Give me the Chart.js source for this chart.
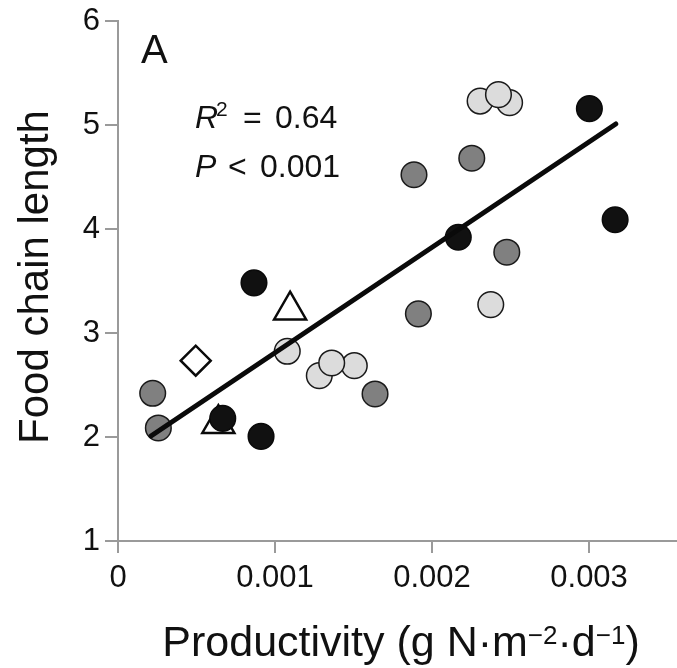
<!DOCTYPE html>
<html><head><meta charset="utf-8">
<script src="https://cdn.jsdelivr.net/npm/chart.js@4.4.0/dist/chart.umd.min.js"></script>
<style>html,body{margin:0;padding:0;background:#fff;overflow:hidden}#wrap{width:677px;height:668px;position:relative}</style>
</head><body><div id="wrap"><canvas id="c"></canvas></div>
<script>
// ---- data ----
const xTicks = [0, 0.001, 0.002, 0.003];
const yTicks = [1, 2, 3, 4, 5, 6];
const blackX = [0.003002, 0.003166, 0.002167, 0.000866, 0.000911, 0.000667];
const blackY = [5.157, 4.089, 3.921, 3.482, 2.006, 2.179];
const grayX = [0.000221, 0.000257, 0.001637, 0.001913, 0.001885, 0.002253, 0.002476];
const grayY = [2.420, 2.087, 2.414, 3.184, 4.522, 4.681, 3.777];
const lightX = [0.001078, 0.001282, 0.001505, 0.001361, 0.002374, 0.002306, 0.002494, 0.002423];
const lightY = [2.824, 2.590, 2.686, 2.712, 3.273, 5.230, 5.215, 5.292];
const triX = [0.001096, 0.000639];
const triY = [3.219, 2.128];
const diamondX = [0.000495];
const diamondY = [2.734];
const fitX = [0.00021, 0.00317];
const fitY = [2.01, 5.01];
const panelLabel = 'A';
const r2Value = '0.64';
const pValue = '0.001';
const yTitle = 'Food chain length';

const FONT = '"Liberation Sans", Arial, Helvetica, sans-serif';
const pts = (xs, ys) => xs.map((x, i) => ({x: x, y: ys[i]}));

const textPlugin = {
  id: 'texts',
  afterDraw(chart) {
    const ctx = chart.ctx;
    ctx.save();
    ctx.fillStyle = '#111';
    ctx.textBaseline = 'alphabetic';
    ctx.textAlign = 'left';
    // panel label
    ctx.font = '40px ' + FONT;
    ctx.fillText(panelLabel, 141, 63);
    // R^2 line
    ctx.font = 'italic 32px ' + FONT;
    ctx.fillText('R', 195, 128);
    ctx.font = '21px ' + FONT;
    ctx.fillText('2', 216, 116);
    ctx.font = '32px ' + FONT;
    ctx.fillText('=', 243, 128);
    ctx.fillText(r2Value, 275, 128);
    // P line
    ctx.font = 'italic 32px ' + FONT;
    ctx.fillText('P', 195, 177);
    ctx.font = '32px ' + FONT;
    ctx.fillText('<', 228, 177);
    ctx.fillText(pValue, 260, 177);
    // x title with superscripts
    const big = '43px ' + FONT, sup = '26px ' + FONT;
    const parts = [
      ['Productivity (g N\u00B7m', big, 0],
      ['\u22122', sup, -12],
      ['\u00B7d', big, 0],
      ['\u22121', sup, -12],
      [')', big, 0]
    ];
    let total = 0;
    parts.forEach(p => { ctx.font = p[1]; total += ctx.measureText(p[0]).width; });
    let x = 401 - total / 2;
    parts.forEach(p => {
      ctx.font = p[1];
      ctx.fillText(p[0], x, 656 + p[2]);
      x += ctx.measureText(p[0]).width;
    });
    // y title
    ctx.translate(48, 277);
    ctx.rotate(-Math.PI / 2);
    ctx.textAlign = 'center';
    ctx.font = '42px ' + FONT;
    ctx.fillText(yTitle, 0, 0);
    ctx.restore();
  }
};

const axisGray = '#9a9a9a';

new Chart(document.getElementById('c'), {
  type: 'scatter',
  data: {
    datasets: [
      {label: 'fit', data: pts(fitX, fitY), showLine: true, borderColor: '#0a0a0a', borderWidth: 5,
       pointRadius: 0, fill: false, order: 0, borderCapStyle: 'round'},
      {label: 'black', data: pts(blackX, blackY), pointStyle: 'circle', pointRadius: 12.8,
       backgroundColor: '#111111', borderColor: '#0a0a0a', borderWidth: 1.5, order: 1},
      {label: 'triangles', data: pts(triX, triY), pointStyle: 'triangle', pointRadius: 18.5,
       backgroundColor: '#ffffff', borderColor: '#0a0a0a', borderWidth: 2.5, order: 2},
      {label: 'diamond', data: pts(diamondX, diamondY), pointStyle: 'rectRot', pointRadius: 15,
       backgroundColor: '#ffffff', borderColor: '#0a0a0a', borderWidth: 2.5, order: 3},
      {label: 'gray', data: pts(grayX, grayY), pointStyle: 'circle', pointRadius: 12.8,
       backgroundColor: '#808080', borderColor: '#1a1a1a', borderWidth: 1.5, order: 4},
      {label: 'light', data: pts(lightX, lightY), pointStyle: 'circle', pointRadius: 12.8,
       backgroundColor: '#dcdcdc', borderColor: '#1a1a1a', borderWidth: 1.5, order: 5}
    ]
  },
  options: {
    responsive: true,
    maintainAspectRatio: false,
    animation: false,
    events: [],
    layout: {autoPadding: false, padding: {top: 21, right: 0, left: 0, bottom: 0}},
    plugins: {legend: {display: false}, tooltip: {enabled: false}, title: {display: false}},
    scales: {
      x: {
        type: 'linear', min: 0, max: 0.00356,
        afterBuildTicks: s => { s.ticks = xTicks.map(v => ({value: v})); },
        afterFit: s => { s.height = 127; s.paddingLeft = 0; s.paddingRight = 0; },
        ticks: {font: {family: FONT, size: 31}, color: '#111', padding: 7, maxRotation: 0, autoSkip: false,
                callback: v => (v === 0 ? '0' : Number(v).toFixed(3))},
        grid: {drawOnChartArea: false, drawTicks: true, tickLength: 12, color: axisGray, lineWidth: 2},
        border: {display: true, color: axisGray, width: 2}
      },
      y: {
        type: 'linear', min: 1, max: 6,
        afterBuildTicks: s => { s.ticks = yTicks.map(v => ({value: v})); },
        afterFit: s => { s.width = 118; s.paddingTop = 0; s.paddingBottom = 0; },
        ticks: {font: {family: FONT, size: 31}, color: '#111', padding: 5, autoSkip: false,
                callback: v => String(v)},
        grid: {drawOnChartArea: false, drawTicks: true, tickLength: 13, color: axisGray, lineWidth: 2},
        border: {display: true, color: axisGray, width: 2}
      }
    }
  },
  plugins: [textPlugin]
});
</script>
</body></html>
